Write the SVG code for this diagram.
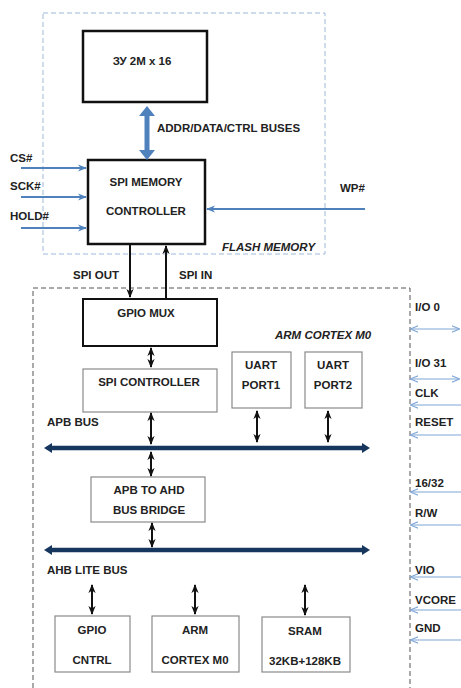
<svg xmlns="http://www.w3.org/2000/svg" width="461" height="688" viewBox="0 0 461 688">
<defs>
<style>
text{font-family:"Liberation Sans",Arial,sans-serif;font-weight:bold;font-size:11.5px;fill:#222}
.it{font-style:italic}
.m{text-anchor:middle}
.thick{fill:#fff;stroke:#111;stroke-width:2.5}
.thin{fill:#fff;stroke:#8a8a8a;stroke-width:1.2}
.blk{stroke:#111;stroke-width:2;fill:none}
.blu{stroke:#4f81bd;stroke-width:2;fill:none}
.lb{stroke:#7fa6d6;stroke-width:1.2;fill:none}
.bus{stroke:#17365d;stroke-width:4.5;fill:none}
</style>
<marker id="ab" viewBox="0 0 10 10" refX="9" refY="5" markerWidth="9" markerHeight="9" markerUnits="userSpaceOnUse" orient="auto-start-reverse"><path d="M0,1 L10,5 L0,9 L3,5 z" fill="#111"/></marker>
<marker id="au" viewBox="0 0 10 10" refX="9" refY="5" markerWidth="9" markerHeight="9" markerUnits="userSpaceOnUse" orient="auto-start-reverse"><path d="M0,1 L10,5 L0,9 L3,5 z" fill="#4f81bd"/></marker>
<marker id="al" viewBox="0 0 10 10" refX="9" refY="5" markerWidth="8" markerHeight="8" markerUnits="userSpaceOnUse" orient="auto-start-reverse"><path d="M0,1 L10,5 L0,9" fill="none" stroke="#7fa6d6" stroke-width="1.3"/></marker>
</defs>
<rect width="461" height="688" fill="#fff"/>
<g id="flash-memory">
<rect x="43" y="13" width="282" height="241" fill="none" stroke="#9db9dd" stroke-width="1" stroke-dasharray="5 3"/>
<text x="222" y="251" class="it">FLASH MEMORY</text>
</g>
<g id="arm-cortex-m0">
<path d="M33,688 V288 H410 V688" fill="none" stroke="#555" stroke-width="1" stroke-dasharray="5 3"/>
<text x="275" y="339" class="it">ARM CORTEX M0</text>
</g>
<g id="zu"><rect x="83" y="31" width="124" height="71" class="thick"/><text x="142" y="65" class="m">ЗУ 2M x 16</text></g>
<g id="spi-mem-ctrl"><rect x="88" y="160" width="117" height="84" class="thick"/><text x="146" y="186" class="m">SPI MEMORY</text><text x="146" y="215" class="m">CONTROLLER</text></g>
<g id="gpio-mux"><rect x="83" y="299" width="134" height="47" fill="#fff" stroke="#111" stroke-width="2"/><text x="146" y="317" class="m">GPIO  MUX</text></g>
<g id="spi-ctrl"><rect x="83" y="369" width="134" height="43" class="thin"/><text x="149" y="386" class="m">SPI CONTROLLER</text></g>
<g id="uart1"><rect x="232" y="352" width="59" height="56" class="thin"/><text x="261" y="369" class="m">UART</text><text x="261" y="389" class="m">PORT1</text></g>
<g id="uart2"><rect x="305" y="352" width="57" height="56" class="thin"/><text x="333" y="369" class="m">UART</text><text x="333" y="389" class="m">PORT2</text></g>
<g id="bridge"><rect x="91" y="477" width="114" height="45" class="thin"/><text x="149" y="494" class="m">APB TO AHD</text><text x="149" y="514" class="m">BUS BRIDGE</text></g>
<g id="gpio-cntrl"><rect x="55" y="616" width="75" height="56" class="thin"/><text x="92" y="634" class="m">GPIO</text><text x="92" y="664" class="m">CNTRL</text></g>
<g id="arm"><rect x="152" y="616" width="87" height="56" class="thin"/><text x="195" y="634" class="m">ARM</text><text x="195" y="664" class="m">CORTEX M0</text></g>
<g id="sram"><rect x="262" y="617" width="88" height="55" class="thin"/><text x="305" y="635" class="m">SRAM</text><text x="305" y="665" class="m">32KB+128KB</text></g>
<g id="labels">
<text x="157" y="132">ADDR/DATA/CTRL BUSES</text>
<text x="10" y="162">CS#</text>
<text x="10" y="190">SCK#</text>
<text x="10" y="220">HOLD#</text>
<text x="340" y="192">WP#</text>
<text x="73" y="279">SPI OUT</text>
<text x="179" y="279">SPI IN</text>
<text x="47" y="426">APB BUS</text>
<text x="47" y="574">AHB LITE BUS</text>
<text x="415" y="311">I/O  0</text>
<text x="415" y="367">I/O  31</text>
<text x="415" y="397">CLK</text>
<text x="415" y="426">RESET</text>
<text x="415" y="487">16/32</text>
<text x="415" y="517">R/W</text>
<text x="415" y="574">VIO</text>
<text x="415" y="604">VCORE</text>
<text x="415" y="632">GND</text>
</g>
<g id="connectors">
<line x1="147" y1="114" x2="147" y2="152" stroke="#4f81bd" stroke-width="5"/>
<polygon points="147,106 139,116 155,116" fill="#4f81bd"/>
<polygon points="147,160 139,150 155,150" fill="#4f81bd"/>
<line x1="21" y1="168" x2="86" y2="168" class="blu" marker-end="url(#au)"/>
<line x1="21" y1="197" x2="86" y2="197" class="blu" marker-end="url(#au)"/>
<line x1="21" y1="228" x2="86" y2="228" class="blu" marker-end="url(#au)"/>
<line x1="365" y1="209" x2="207" y2="209" class="blu" marker-end="url(#au)"/>
<line x1="130" y1="245" x2="130" y2="297" class="blk" marker-end="url(#ab)"/>
<line x1="166" y1="298" x2="166" y2="246" class="blk" marker-end="url(#ab)"/>
<line x1="151" y1="348" x2="151" y2="367" class="blk" marker-start="url(#ab)" marker-end="url(#ab)"/>
<line x1="151" y1="413" x2="151" y2="444" class="blk" marker-start="url(#ab)" marker-end="url(#ab)"/>
<line x1="257" y1="411" x2="257" y2="442" class="blk" marker-start="url(#ab)" marker-end="url(#ab)"/>
<line x1="328" y1="411" x2="328" y2="442" class="blk" marker-start="url(#ab)" marker-end="url(#ab)"/>
<line x1="151" y1="452" x2="151" y2="476" class="blk" marker-start="url(#ab)" marker-end="url(#ab)"/>
<line x1="152" y1="523" x2="152" y2="547" class="blk" marker-start="url(#ab)" marker-end="url(#ab)"/>
<line x1="92" y1="585" x2="92" y2="614" class="blk" marker-start="url(#ab)" marker-end="url(#ab)"/>
<line x1="195" y1="585" x2="195" y2="614" class="blk" marker-start="url(#ab)" marker-end="url(#ab)"/>
<line x1="305" y1="585" x2="305" y2="615" class="blk" marker-start="url(#ab)" marker-end="url(#ab)"/>
<line x1="50" y1="448" x2="364" y2="448" class="bus"/>
<polygon points="44,448 52,443 52,453" fill="#17365d"/>
<polygon points="370,448 362,443 362,453" fill="#17365d"/>
<line x1="50" y1="550" x2="364" y2="550" class="bus"/>
<polygon points="44,550 52,545 52,555" fill="#17365d"/>
<polygon points="370,550 362,545 362,555" fill="#17365d"/>
<line x1="411" y1="329" x2="459" y2="329" class="lb" marker-start="url(#al)" marker-end="url(#al)"/>
<line x1="411" y1="379" x2="459" y2="379" class="lb" marker-start="url(#al)" marker-end="url(#al)"/>
<line x1="461" y1="405" x2="411" y2="405" class="lb" marker-end="url(#al)"/>
<line x1="461" y1="435" x2="411" y2="435" class="lb" marker-end="url(#al)"/>
<line x1="461" y1="492" x2="411" y2="492" class="lb" marker-end="url(#al)"/>
<line x1="461" y1="525" x2="411" y2="525" class="lb" marker-end="url(#al)"/>
<line x1="461" y1="577" x2="411" y2="577" class="lb" marker-end="url(#al)"/>
<line x1="461" y1="610" x2="411" y2="610" class="lb" marker-end="url(#al)"/>
<line x1="461" y1="640" x2="411" y2="640" class="lb" marker-end="url(#al)"/>
</g>
</svg>
